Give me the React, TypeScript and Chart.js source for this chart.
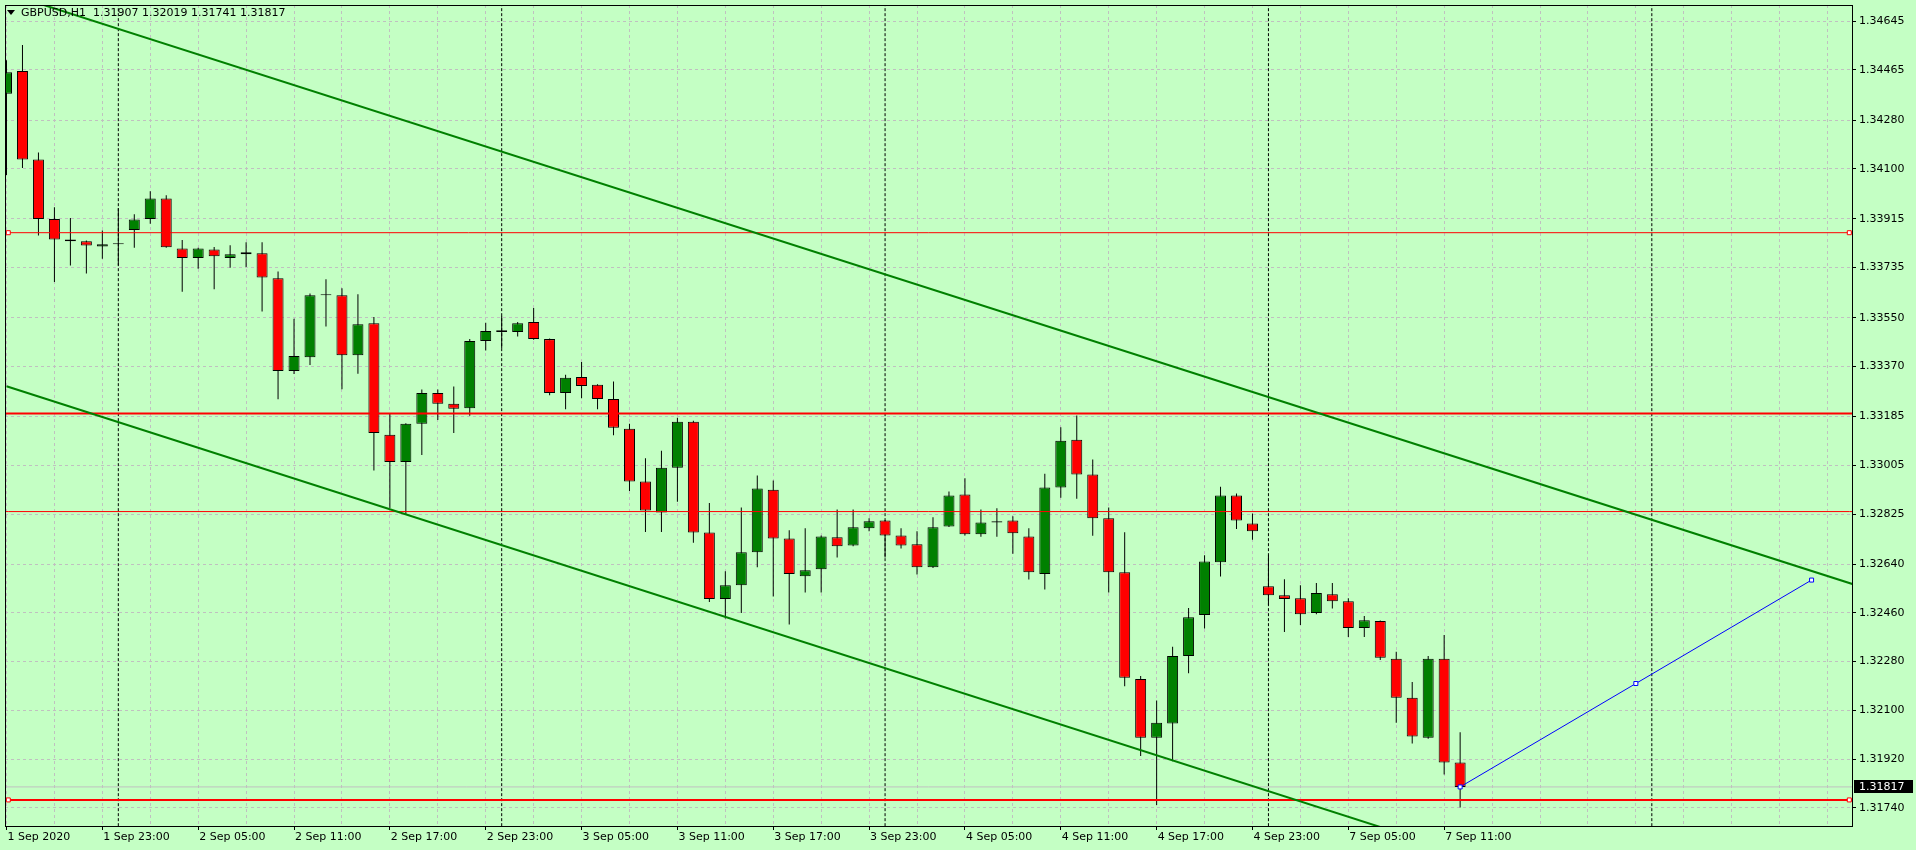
import React, { useEffect, useRef } from 'react';
import { Chart, registerables } from 'chart.js';

Chart.register(...registerables);

// ---------- DATA ----------
const symbolTitle = 'GBPUSD,H1';
const lastBarOHLC = [1.31907, 1.32019, 1.31741, 1.31817];

// H1 candles, bar index 0 = 1 Sep 17:00 ... bar 91 = 7 Sep 12:00
const opens = [
  1.34377, 1.34461, 1.34134, 1.33915, 1.33839, 1.33832, 1.33813, 1.33821, 1.33874, 1.33915,
  1.33990, 1.33806, 1.33771, 1.33802, 1.33771, 1.33784, 1.33788, 1.33696, 1.33353, 1.33404,
  1.33633, 1.33633, 1.33411, 1.33530, 1.33118, 1.33017, 1.33158, 1.33272, 1.33232, 1.33216,
  1.33464, 1.33497, 1.33497, 1.33534, 1.33471, 1.33272, 1.33331, 1.33302, 1.33250, 1.33140,
  1.32945, 1.32831, 1.32996, 1.33166, 1.32757, 1.32511, 1.32562, 1.32684, 1.32915, 1.32735,
  1.32595, 1.32621, 1.32739, 1.32709, 1.32772, 1.32801, 1.32746, 1.32713, 1.32628, 1.32779,
  1.32897, 1.32750, 1.32794, 1.32801, 1.32742, 1.32603, 1.32923, 1.33099, 1.32971, 1.32809,
  1.32610, 1.32216, 1.31999, 1.32051, 1.32301, 1.32452, 1.32647, 1.32893, 1.32790, 1.32558,
  1.32525, 1.32514, 1.32459, 1.32529, 1.32503, 1.32404, 1.32430, 1.32290, 1.32146, 1.31999,
  1.32290, 1.31907,
];
const highs = [
  1.34501, 1.34557, 1.34160, 1.33958, 1.33918, 1.33835, 1.33872, 1.33954, 1.33932, 1.34017,
  1.34002, 1.33837, 1.33808, 1.33811, 1.33818, 1.33829, 1.33829, 1.33721, 1.33546, 1.33639,
  1.33692, 1.33659, 1.33637, 1.33553, 1.33197, 1.33160, 1.33285, 1.33285, 1.33296, 1.33471,
  1.33531, 1.33556, 1.33534, 1.33586, 1.33473, 1.33339, 1.33386, 1.33304, 1.33314, 1.33158,
  1.33031, 1.33059, 1.33181, 1.33169, 1.32866, 1.32614, 1.32849, 1.32967, 1.32949, 1.32765,
  1.32772, 1.32746, 1.32842, 1.32842, 1.32809, 1.32803, 1.32772, 1.32761, 1.32813, 1.32908,
  1.32957, 1.32842, 1.32846, 1.32817, 1.32772, 1.32974, 1.33145, 1.33189, 1.33026, 1.32849,
  1.32758, 1.32227, 1.32136, 1.32335, 1.32478, 1.32673, 1.32926, 1.32901, 1.32827, 1.32673,
  1.32584, 1.32562, 1.32570, 1.32570, 1.32514, 1.32448, 1.32432, 1.32316, 1.32205, 1.32301,
  1.32378, 1.32019,
];
const lows = [
  1.34077, 1.34103, 1.33854, 1.33682, 1.33743, 1.33713, 1.33768, 1.33743, 1.33808, 1.33897,
  1.33808, 1.33646, 1.33731, 1.33655, 1.33735, 1.33737, 1.33573, 1.33249, 1.33342, 1.33375,
  1.33518, 1.33286, 1.33343, 1.32986, 1.32847, 1.32825, 1.33043, 1.33172, 1.33124, 1.33188,
  1.33429, 1.33437, 1.33481, 1.33469, 1.33264, 1.33212, 1.33253, 1.33212, 1.33116, 1.32910,
  1.32759, 1.32759, 1.32870, 1.32719, 1.32500, 1.32439, 1.32459, 1.32628, 1.32520, 1.32417,
  1.32535, 1.32535, 1.32664, 1.32706, 1.32761, 1.32664, 1.32698, 1.32602, 1.32626, 1.32777,
  1.32746, 1.32741, 1.32741, 1.32678, 1.32583, 1.32546, 1.32885, 1.32881, 1.32745, 1.32535,
  1.32189, 1.31931, 1.31750, 1.31912, 1.32237, 1.32402, 1.32594, 1.32770, 1.32730, 1.32489,
  1.32389, 1.32415, 1.32455, 1.32476, 1.32371, 1.32371, 1.32286, 1.32054, 1.31977, 1.31995,
  1.31863, 1.31741,
];
const closes = [
  1.34457, 1.34134, 1.33915, 1.33839, 1.33832, 1.33817, 1.33821, 1.33825, 1.33913, 1.33990,
  1.33810, 1.33771, 1.33806, 1.33777, 1.33784, 1.33792, 1.33699, 1.33353, 1.33409, 1.33633,
  1.33637, 1.33411, 1.33526, 1.33124, 1.33017, 1.33158, 1.33272, 1.33232, 1.33214, 1.33464,
  1.33501, 1.33504, 1.33530, 1.33471, 1.33272, 1.33328, 1.33298, 1.33250, 1.33144, 1.32945,
  1.32838, 1.32996, 1.33166, 1.32757, 1.32511, 1.32562, 1.32684, 1.32919, 1.32735, 1.32603,
  1.32617, 1.32742, 1.32706, 1.32776, 1.32798, 1.32746, 1.32709, 1.32628, 1.32776, 1.32893,
  1.32750, 1.32794, 1.32798, 1.32754, 1.32610, 1.32923, 1.33096, 1.32971, 1.32809, 1.32610,
  1.32220, 1.31999, 1.32054, 1.32301, 1.32444, 1.32650, 1.32893, 1.32801, 1.32761, 1.32525,
  1.32511, 1.32455, 1.32533, 1.32503, 1.32404, 1.32433, 1.32294, 1.32146, 1.32003, 1.32290,
  1.31907, 1.31817,
];

// time axis labels and the bars they sit on
const xTickLabels = [
  '1 Sep 2020', '1 Sep 23:00', '2 Sep 05:00', '2 Sep 11:00', '2 Sep 17:00', '2 Sep 23:00',
  '3 Sep 05:00', '3 Sep 11:00', '3 Sep 17:00', '3 Sep 23:00', '4 Sep 05:00', '4 Sep 11:00',
  '4 Sep 17:00', '4 Sep 23:00', '7 Sep 05:00', '7 Sep 11:00',
];
const xTickBars = [0, 6, 12, 18, 24, 30, 36, 42, 48, 54, 60, 66, 72, 78, 84, 90];

const yTickValues = [
  1.34645, 1.34465, 1.3428, 1.341, 1.33915, 1.33735, 1.3355, 1.3337, 1.33185,
  1.33005, 1.32825, 1.3264, 1.3246, 1.3228, 1.321, 1.3192, 1.3174,
];

// midnight bars (period separators)
const daySeparatorBars = [7, 31, 55, 79, 103];

// horizontal levels
const levelPrices = [1.33864, 1.33196, 1.32834, 1.31769];
const levelThick = [false, true, false, true];
const levelSelected = [true, false, false, true];

// trend channel (bar index, price)
const upperChannel = [[0, 1.34749], [116, 1.32558]];
const lowerChannel = [[0, 1.33297], [116, 1.31101]];
// projection line (bar index, price)
const projection = [[91, 1.31817], [102, 1.32199], [113, 1.32581]];

const bidPrice = 1.31817;

// visible ranges
const xMin = -0.09375;
const xMax = 115.53125;
const yMin = 1.316727;
const yMax = 1.34705;

// ---------- STYLE ----------
const BG = '#C4FFC4';
const GREEN = '#008000';
const RED = '#FF0000';
const GRID = '#C0C0C0';
const FONT = 'DejaVu Sans';

export default function App() {
  const ref = useRef<HTMLCanvasElement>(null);

  useEffect(() => {
    document.body.style.margin = '0';
    document.body.style.background = BG;
    const canvas = ref.current!;
    const idx = opens.map((_, i) => i);
    const labelByBar: Record<number, string> = {};
    xTickBars.forEach((b, i) => (labelByBar[b] = xTickLabels[i]));
    const gridBars: number[] = [];
    for (let b = 0; b <= Math.floor(xMax); b += 3) gridBars.push(b);

    const lineDs = (label: string, pts: number[][], color: string, width: number, order: number, extra: any = {}) => ({
      type: 'line',
      label,
      data: pts.map(([x, y]) => ({ x, y })),
      borderColor: color,
      borderWidth: width,
      pointRadius: 0,
      fill: false,
      tension: 0,
      order,
      clip: 0,
      ...extra,
    });

    const datasets: any[] = [];
    daySeparatorBars.forEach((b) =>
      datasets.push(lineDs('sep', [[b, yMin - 1], [b, yMax + 1]], '#000', 1, 100, { borderDash: [3, 2] }))
    );
    datasets.push(lineDs('bid', [[xMin - 2, bidPrice], [xMax + 2, bidPrice]], '#C0C0C0', 1, 90));
    datasets.push({
      type: 'bar',
      label: 'wicks',
      data: idx.map((i) => ({ x: i, y: [lows[i], highs[i]] })),
      backgroundColor: '#000',
      borderWidth: 0,
      barThickness: 1,
      grouped: false,
      inflateAmount: 0,
      order: 50,
      clip: 0,
    });
    datasets.push({
      type: 'bar',
      label: 'bodies',
      data: idx.map((i) => ({ x: i, y: [opens[i], closes[i]] })),
      backgroundColor: idx.map((i) => (closes[i] >= opens[i] ? GREEN : RED)),
      borderColor: '#000',
      borderWidth: 1,
      borderSkipped: false,
      barThickness: 11,
      grouped: false,
      inflateAmount: 0,
      order: 40,
      clip: 0,
    });
    levelPrices.forEach((p, k) => {
      const sel = levelSelected[k];
      datasets.push(
        lineDs(
          'level',
          [[xMin - 2, p], [xMin + 0.206, p], [xMax - 0.169, p], [xMax + 2, p]],
          RED,
          levelThick[k] ? 2 : 1,
          30,
          {
            pointRadius: sel ? [0, 2.83, 2.83, 0] : 0,
            pointStyle: 'rect',
            pointBackgroundColor: '#FFFFFF',
            pointBorderColor: RED,
            pointBorderWidth: 1,
          }
        )
      );
    });
    datasets.push(lineDs('upper', upperChannel, GREEN, 2, 20));
    datasets.push(lineDs('lower', lowerChannel, GREEN, 2, 20));
    datasets.push(
      lineDs('projection', projection, '#0000FF', 1, 10, {
        pointRadius: 2.83,
        pointStyle: 'rect',
        pointBackgroundColor: '#FFFFFF',
        pointBorderColor: '#0000FF',
        pointBorderWidth: 1,
      })
    );

    const framePlugin = {
      id: 'frame',
      afterDraw(chart: any) {
        const { ctx, chartArea: a } = chart;
        ctx.save();
        ctx.strokeStyle = '#000';
        ctx.lineWidth = 1;
        ctx.strokeRect(a.left + 0.5, a.top + 0.5, a.right - a.left, a.bottom - a.top);
        // current price label
        const y = chart.scales.y.getPixelForValue(bidPrice);
        const yc = Math.round(y);
        ctx.fillStyle = '#000';
        ctx.fillRect(a.right + 2, yc - 7, 59, 13);
        ctx.fillStyle = '#FFFFFF';
        ctx.font = `11px "${FONT}"`;
        ctx.textBaseline = 'middle';
        ctx.textAlign = 'left';
        ctx.fillText(bidPrice.toFixed(5), a.right + 7, yc);
        ctx.restore();
      },
    };

    const font = { family: FONT, size: 11 };
    const chart = new Chart(canvas, {
      type: 'bar',
      data: { datasets },
      options: {
        responsive: false,
        animation: false,
        devicePixelRatio: 1,
        events: [],
        layout: { padding: { left: 2, top: 2, right: 0, bottom: 0 } },
        plugins: { legend: { display: false }, tooltip: { enabled: false }, title: { display: false } },
        scales: {
          x: {
            type: 'linear',
            min: xMin,
            max: xMax,
            offset: false,
            afterBuildTicks: (s: any) => {
              s.ticks = gridBars.map((v) => ({ value: v }));
            },
            afterFit: (s: any) => {
              s.height = 24;
              s.paddingLeft = 0;
              s.paddingRight = 0;
            },
            ticks: {
              autoSkip: false,
              maxRotation: 0,
              minRotation: 0,
              align: 'start',
              labelOffset: 1,
              padding: 1,
              color: '#000',
              font,
              callback: (v: any) => labelByBar[Math.round(Number(v))] ?? '',
            },
            grid: {
              color: GRID,
              offset: false,
              drawTicks: true,
              tickLength: 4,
              tickColor: (c: any) => (c.tick && labelByBar[c.tick.value] !== undefined ? '#000' : 'rgba(0,0,0,0)'),
              tickBorderDash: [],
            },
            border: { display: true, color: '#000', width: 1, dash: [3, 3] },
          },
          y: {
            type: 'linear',
            position: 'right',
            min: yMin,
            max: yMax,
            afterBuildTicks: (s: any) => {
              s.ticks = yTickValues.map((v) => ({ value: v }));
            },
            afterFit: (s: any) => {
              s.width = 64;
              s.paddingTop = 0;
              s.paddingBottom = 0;
            },
            ticks: {
              autoSkip: false,
              padding: 3,
              color: '#000',
              font,
              callback: (v: any) => Number(v).toFixed(5),
            },
            grid: {
              color: GRID,
              drawTicks: true,
              tickLength: 4,
              tickColor: '#000',
              tickBorderDash: [],
            },
            border: { display: true, color: '#000', width: 1, dash: [3, 3] },
          },
        },
      } as any,
      plugins: [framePlugin],
    } as any);
    return () => chart.destroy();
  }, []);

  const title = `${symbolTitle}  ${lastBarOHLC.map((v) => v.toFixed(5)).join(' ')}`;

  return (
    <div
      style={{
        position: 'fixed',
        left: 0,
        top: 0,
        width: 1916,
        height: 850,
        background: BG,
        overflow: 'hidden',
      }}
    >
      <canvas ref={ref} width={1916} height={850} style={{ display: 'block', width: 1916, height: 850 }} />
      <div
        style={{
          position: 'absolute',
          left: 7,
          top: 10,
          width: 0,
          height: 0,
          borderLeft: '4px solid transparent',
          borderRight: '4px solid transparent',
          borderTop: '5px solid #000',
        }}
      />
      <div
        style={{
          position: 'absolute',
          left: 21,
          top: 6,
          fontFamily: FONT,
          fontSize: 11,
          lineHeight: '13px',
          color: '#000',
          whiteSpace: 'pre',
        }}
      >
        {title}
      </div>
    </div>
  );
}
